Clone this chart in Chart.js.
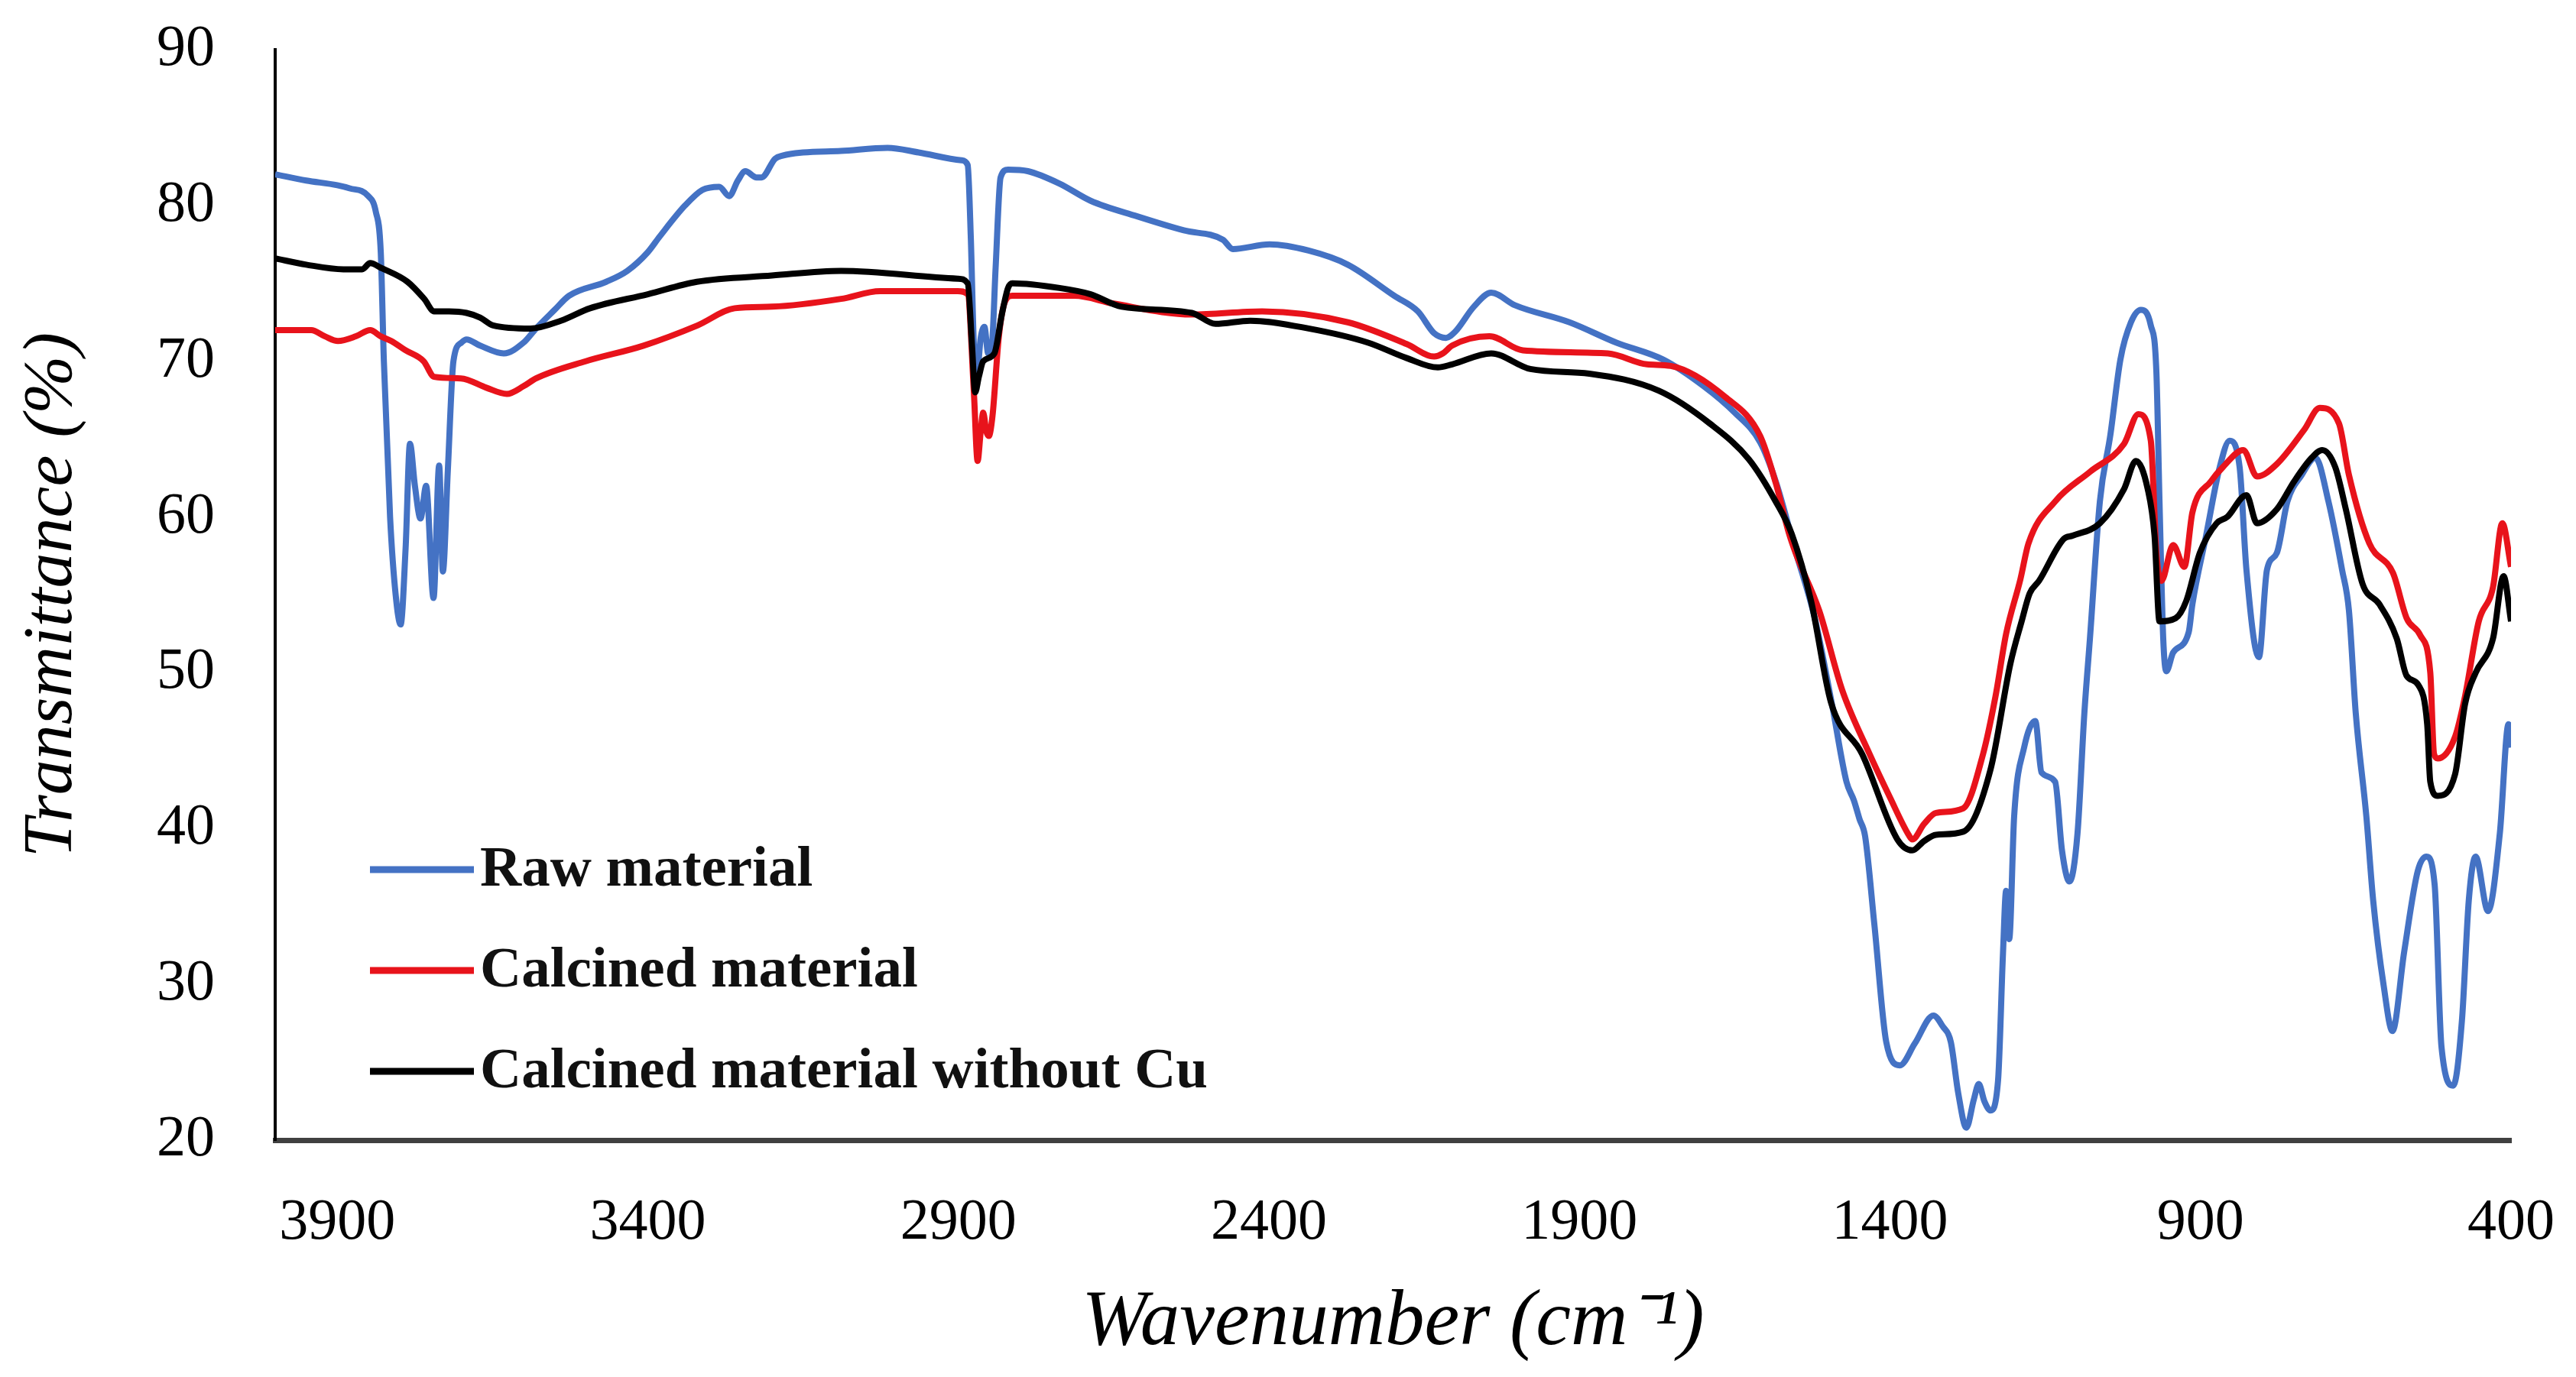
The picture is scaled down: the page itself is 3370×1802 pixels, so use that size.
<!DOCTYPE html>
<html>
<head>
<meta charset="utf-8">
<title>FTIR spectra</title>
<script src="https://cdn.jsdelivr.net/npm/chart.js@4.4.1/dist/chart.umd.min.js"></script>
<style>
  html, body { margin: 0; padding: 0; background: #ffffff; }
  #wrap { position: relative; width: 3370px; height: 1802px; }
</style>
</head>
<body>
<div id="wrap"><canvas id="ftirChart"></canvas></div>
<script>
// Raw material (blue)
const rawWn = [4000, 3950, 3900, 3880, 3850, 3838, 3830, 3825, 3815, 3806, 3798, 3790, 3783, 3775, 3766, 3757,
  3745, 3736, 3730, 3722, 3713, 3700, 3692, 3670, 3632, 3600, 3580, 3550, 3527, 3467, 3433, 3400, 3381, 3340,
  3312, 3285, 3269, 3255, 3243, 3225, 3217, 3195, 3183, 3150, 3089, 3014, 2964, 2895, 2885, 2880, 2875, 2870,
  2864, 2858, 2852, 2846, 2840, 2832, 2820, 2788, 2737, 2687, 2612, 2537, 2474, 2458, 2399, 2336, 2273, 2198,
  2160, 2134, 2115, 2100, 2070, 2042, 2004, 1916, 1841, 1765, 1700, 1650, 1609, 1584, 1552, 1521, 1493, 1470,
  1458, 1449, 1440, 1425, 1406, 1384, 1360, 1330, 1315, 1302, 1290, 1277, 1265, 1257, 1248, 1238, 1226, 1218,
  1213, 1208, 1200, 1184, 1166, 1156, 1134, 1123, 1111, 1098, 1087, 1078, 1062, 1045, 1029, 1012, 996, 980,
  971, 966, 960, 955, 944, 919, 913, 891, 869, 853, 837, 826, 806, 793, 777, 760, 737, 715, 694, 672, 661, 650,
  633, 622, 605, 591, 572, 550, 536, 523, 512, 493, 479, 468, 457, 437, 418, 404, 400];
const rawT = [82.0, 81.6, 81.3, 81.1, 80.6, 79.6, 77.0, 70.0, 60.0, 55.0, 53.1, 58.0, 64.7, 62.0, 59.9, 62.0,
  54.8, 63.3, 56.5, 63.0, 70.0, 71.2, 71.4, 71.0, 70.5, 71.2, 72.1, 73.3, 74.2, 75.1, 75.8, 77.0, 78.0, 80.0,
  81.0, 81.2, 80.6, 81.6, 82.2, 81.8, 81.8, 83.0, 83.2, 83.4, 83.5, 83.7, 83.4, 82.9, 82.6, 78.0, 71.0, 69.2,
  71.5, 72.2, 70.5, 71.0, 76.0, 81.8, 82.3, 82.2, 81.4, 80.3, 79.3, 78.4, 77.8, 77.2, 77.5, 77.1, 76.2, 74.2,
  73.2, 71.8, 71.5, 71.9, 73.5, 74.4, 73.6, 72.5, 71.2, 70.1, 68.4, 66.7, 64.8, 62.3, 57.8, 53.5, 47.9, 43.0,
  41.8, 40.6, 39.5, 33.8, 26.3, 24.8, 26.2, 28.0, 27.3, 26.3, 23.0, 20.8, 22.6, 23.6, 22.5, 21.9, 23.8, 32.0,
  36.0, 32.9, 40.8, 45.2, 46.9, 43.6, 43.0, 38.6, 36.6, 39.7, 47.4, 52.2, 61.0, 65.3, 70.1, 72.5, 73.3, 72.3,
  69.3, 61.0, 52.2, 50.1, 51.3, 52.6, 54.4, 58.8, 63.2, 64.9, 63.2, 56.6, 51.0, 56.6, 57.7, 61.0, 62.7, 63.8,
  61.0, 56.6, 54.0, 47.4, 40.8, 35.4, 29.9, 27.0, 32.1, 37.3, 38.2, 36.4, 26.0, 23.5, 27.7, 35.4, 38.2, 34.7,
  39.7, 46.7, 45.2];

// Calcined material (red)
const calWn = [4000, 3942, 3920, 3899, 3870, 3847, 3830, 3813, 3790, 3761, 3744, 3701, 3660, 3627, 3600, 3580,
  3500, 3407, 3320, 3260, 3200, 3089, 3026, 2901, 2885, 2875, 2869, 2864, 2860, 2855, 2851, 2845, 2835, 2826,
  2813, 2713, 2650, 2524, 2411, 2273, 2178, 2134, 2120, 2105, 2045, 1991, 1854, 1791, 1753, 1665, 1609, 1584,
  1563, 1552, 1514, 1477, 1433, 1400, 1370, 1364, 1345, 1326, 1282, 1250, 1230, 1213, 1190, 1177, 1134, 1078,
  1023, 1000, 980, 971, 963, 944, 926, 913, 883, 864, 831, 809, 777, 733, 708, 677, 661, 628, 590, 568, 546,
  530, 524, 518, 490, 474, 452, 429, 414, 400];
const calT = [72.0, 72.0, 71.6, 71.3, 71.6, 72.0, 71.6, 71.3, 70.7, 70.0, 69.0, 68.9, 68.3, 67.9, 68.4, 68.9,
  70.0, 71.0, 72.3, 73.4, 73.5, 74.0, 74.5, 74.5, 74.3, 68.0, 63.6, 65.5, 66.7, 65.5, 65.2, 66.5, 71.5, 73.7,
  74.2, 74.2, 73.7, 73.0, 73.2, 72.5, 71.1, 70.3, 70.5, 71.0, 71.6, 70.7, 70.5, 69.8, 69.7, 67.7, 65.2, 62.2,
  59.0, 57.7, 54.0, 48.9, 44.8, 42.0, 39.6, 39.3, 40.3, 41.0, 41.3, 44.8, 48.5, 52.5, 56.0, 58.3, 61.0, 62.9,
  64.7, 66.6, 64.9, 57.7, 55.9, 58.2, 56.8, 60.3, 62.3, 63.2, 64.3, 62.6, 63.4, 65.6, 67.0, 66.0, 62.7, 58.3,
  56.4, 53.5, 52.4, 50.0, 44.8, 44.5, 45.9, 48.5, 53.3, 55.5, 59.6, 56.8];

// Calcined material without Cu (black)
const noCuWn = [4000, 3950, 3890, 3860, 3847, 3830, 3787, 3760, 3744, 3720, 3692, 3670, 3649, 3589, 3540, 3493,
  3400, 3321, 3200, 3089, 2901, 2885, 2878, 2873, 2867, 2860, 2842, 2830, 2820, 2813, 2737, 2687, 2637, 2524,
  2486, 2430, 2336, 2241, 2178, 2128, 2105, 2042, 1979, 1884, 1772, 1690, 1627, 1584, 1558, 1527, 1495, 1445,
  1388, 1364, 1345, 1326, 1282, 1238, 1206, 1188, 1175, 1160, 1120, 1106, 1062, 1023, 1004, 985, 974, 966, 940,
  923, 901, 874, 857, 826, 809, 777, 749, 721, 704, 683, 666, 639, 612, 584, 568, 549, 535, 530, 518, 490, 474,
  457, 429, 412, 400];
const noCuT = [76.6, 76.2, 75.9, 75.9, 76.3, 76.0, 75.1, 74.0, 73.2, 73.2, 73.1, 72.8, 72.3, 72.1, 72.6, 73.4,
  74.3, 75.1, 75.5, 75.8, 75.3, 75.0, 71.0, 68.0, 69.0, 70.0, 70.5, 73.0, 74.7, 75.0, 74.7, 74.3, 73.5, 73.1,
  72.4, 72.6, 72.1, 71.2, 70.2, 69.6, 69.8, 70.5, 69.5, 69.2, 68.1, 66.0, 63.7, 61.0, 58.9, 54.6, 48.1, 44.8,
  39.3, 38.6, 39.2, 39.6, 39.8, 43.8, 50.6, 53.3, 55.1, 55.9, 58.6, 58.8, 59.6, 61.8, 63.6, 61.8, 58.8, 53.3,
  53.5, 54.6, 57.7, 59.6, 60.0, 61.4, 59.6, 60.5, 62.3, 63.8, 64.3, 63.2, 60.5, 55.7, 54.4, 52.2, 49.8, 49.2,
  46.7, 43.0, 42.1, 43.5, 48.0, 50.0, 52.2, 56.2, 53.3];

const seriesLabels = ['Raw material', 'Calcined material', 'Calcined material without Cu'];
const seriesColors = ['#4472c4', '#e8131b', '#000000'];
const xTickValues = [3900, 3400, 2900, 2400, 1900, 1400, 900, 400];
const yTickValues = [20, 30, 40, 50, 60, 70, 80, 90];

function toPoints(xs, ys) {
    return xs.map((x, i) => ({ x: x, y: ys[i] }));
}

// Легенда всередині області графіка (внизу ліворуч)
const insideLegend = {
    id: 'insideLegend',
    afterDraw(chart) {
        const { ctx, chartArea } = chart;
        const rows = [-354, -222, -90];
        ctx.save();
        ctx.font = 'bold 75px "Liberation Serif", "Times New Roman", serif';
        ctx.textBaseline = 'middle';
        ctx.textAlign = 'left';
        chart.data.datasets.forEach((ds, i) => {
            const y = chartArea.bottom + rows[i];
            ctx.strokeStyle = ds.borderColor;
            ctx.lineWidth = 9;
            ctx.beginPath();
            ctx.moveTo(chartArea.left + 124, y);
            ctx.lineTo(chartArea.left + 260, y);
            ctx.stroke();
            ctx.fillStyle = '#111111';
            ctx.fillText(ds.label, chartArea.left + 268, y + 2);
        });
        ctx.restore();
    }
};

function initChart() {
    Chart.defaults.font.family = '"Liberation Serif", "Times New Roman", serif';
    Chart.defaults.color = '#000000';

    const sets = [[rawWn, rawT], [calWn, calT], [noCuWn, noCuT]];

    new Chart(document.getElementById('ftirChart'), {
        type: 'line',
        data: {
            datasets: sets.map((s, i) => ({
                label: seriesLabels[i],
                data: toPoints(s[0], s[1]),
                borderColor: seriesColors[i],
                backgroundColor: seriesColors[i],
                borderWidth: 8,
                pointRadius: 0,
                cubicInterpolationMode: 'monotone',
                fill: false,
                order: 2 - i
            }))
        },
        options: {
            responsive: true,
            maintainAspectRatio: false,
            animation: false,
            devicePixelRatio: 1,
            layout: { padding: { top: 65, right: 85, left: 0, bottom: 0 } },
            plugins: { legend: { display: false }, tooltip: { enabled: false } },
            scales: {
                x: {
                    type: 'linear',
                    reverse: true,
                    min: 400,
                    max: 4000,
                    afterBuildTicks: (scale) => {
                        scale.ticks = xTickValues.slice().sort((a, b) => a - b).map(v => ({ value: v }));
                    },
                    afterFit: (scale) => {
                        scale.height = 310;
                        scale.paddingLeft = 0;
                        scale.paddingRight = 0;
                    },
                    grid: { drawOnChartArea: false, drawTicks: false },
                    border: { display: true, color: '#404040', width: 7 },
                    ticks: {
                        padding: 63,
                        font: { size: 76 },
                        color: '#000000',
                        maxRotation: 0,
                        callback: (v) => String(v)
                    },
                    title: {
                        display: true,
                        text: 'Wavenumber (cm\u207B\u00B9)',
                        font: { size: 103, style: 'italic' },
                        color: '#000000',
                        padding: { top: 0, bottom: 8 }
                    }
                },
                y: {
                    min: 20,
                    max: 90,
                    afterBuildTicks: (scale) => {
                        scale.ticks = yTickValues.map(v => ({ value: v }));
                    },
                    afterFit: (scale) => {
                        scale.width = 360;
                        scale.paddingTop = 0;
                        scale.paddingBottom = 0;
                    },
                    grid: { drawOnChartArea: false, drawTicks: false },
                    border: { display: true, color: '#000000', width: 4 },
                    ticks: {
                        padding: 79,
                        font: { size: 76 },
                        color: '#000000'
                    },
                    title: {
                        display: true,
                        text: 'Transmittance (%)',
                        font: { size: 92, style: 'italic' },
                        color: '#000000',
                        padding: { top: 14, bottom: 0 }
                    }
                }
            }
        },
        plugins: [insideLegend]
    });
}

document.addEventListener('DOMContentLoaded', () => {
    initChart();
});
</script>
</body>
</html>
